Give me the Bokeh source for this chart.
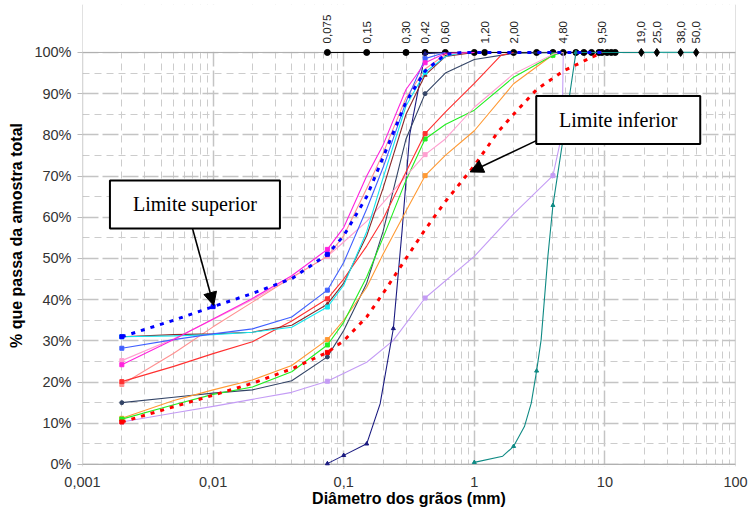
from bokeh.plotting import figure
from bokeh.models import (Range1d, FixedTicker, CustomJSTickFormatter, PrintfTickFormatter,
                          Label, Arrow, NormalHead, Span)
from bokeh.embed import file_html
from bokeh.resources import INLINE
from bokeh.core.properties import value
import math

# ---------------- data ----------------
x_ticks = [0.001, 0.01, 0.1, 1, 10, 100]
x_minor = [0.002, 0.003, 0.004, 0.005, 0.006, 0.007, 0.008, 0.009,
           0.02, 0.03, 0.04, 0.05, 0.06, 0.07, 0.08, 0.09,
           0.2, 0.3, 0.4, 0.5, 0.6, 0.7, 0.8, 0.9,
           2, 3, 4, 5, 6, 7, 8, 9,
           20, 30, 40, 50, 60, 70, 80, 90]
y_ticks = [0, 10, 20, 30, 40, 50, 60, 70, 80, 90, 100]
y_minor = [5, 15, 25, 35, 45, 55, 65, 75, 85, 95]

# sieve openings drawn on the 100 % line
sieve_x = [0.075, 0.15, 0.30, 0.42, 0.60, 1.0, 1.2, 2.0, 3.0, 4.0, 4.8, 6.0,
           6.9, 7.9, 9.0, 9.5, 10.4, 11.2, 12.0]
sieve_pct = [100, 100, 100, 100, 100, 100, 100, 100, 100, 100, 100, 100,
             100, 100, 100, 100, 100, 100, 100]
coarse_x = [19.0, 25.0, 38.0, 50.0]
coarse_pct = [100, 100, 100, 100]
sieve_label_x = [0.075, 0.15, 0.30, 0.42, 0.60, 1.20, 2.00, 4.80, 9.50, 19.0, 25.0, 38.0, 50.0]
sieve_label_pct = [100, 100, 100, 100, 100, 100, 100, 100, 100, 100, 100, 100, 100]
sieve_labels = ["0,075", "0,15", "0,30", "0,42", "0,60", "1,20", "2,00", "4,80",
                "9,50", "19,0", "25,0", "38,0", "50,0"]

# grading curves (diameter mm, % passing)
sup_x = [0.002, 0.005, 0.01, 0.02, 0.04, 0.075, 0.1, 0.15, 0.2, 0.3, 0.42, 0.6, 0.8, 1.2, 2.0, 4.8, 9.5]
sup_y = [31, 35, 38.3, 41.5, 45.1, 51, 55.5, 65, 74.5, 88, 95.5, 99.5, 100, 100, 100, 100, 100]

inf_x = [0.002, 0.005, 0.01, 0.02, 0.04, 0.075, 0.1, 0.15, 0.2, 0.3, 0.42, 0.6, 1.0, 1.5, 2.0, 3.0, 4.8, 7.0, 9.5]
inf_y = [10.3, 14, 16.8, 19.7, 23.2, 27.2, 30, 35.8, 41.5, 50, 57, 63.8, 72.5, 80.5, 85, 91, 95.5, 98, 100]

magenta_x = [0.002, 0.005, 0.01, 0.02, 0.04, 0.075, 0.1, 0.15, 0.2, 0.3, 0.42, 0.6, 1.0]
magenta_y = [24.2, 30.3, 35.3, 40.3, 45.8, 52.2, 57.5, 70, 77.5, 91, 97.5, 99.8, 100]

salmon_x = [0.002, 0.005, 0.01, 0.02, 0.04, 0.075, 0.1, 0.15, 0.2, 0.3, 0.42, 0.6, 1.0]
salmon_y = [19.4, 27, 33.4, 39.4, 45.4, 50.5, 55.5, 67, 75.5, 89, 96, 99.5, 100]

pink_x = [0.002, 0.005, 0.01, 0.02, 0.04, 0.075, 0.1, 0.15, 0.2, 0.3, 0.42, 0.6, 1.0, 2.0, 4.1, 4.8]
pink_y = [25.2, 30.5, 35.2, 40, 45.3, 50.5, 54, 59, 63.5, 70, 75.2, 79, 86.7, 94.8, 99.7, 100]

red_x = [0.002, 0.005, 0.01, 0.02, 0.04, 0.075, 0.1, 0.15, 0.2, 0.3, 0.42, 0.6, 1.0, 1.6, 2.0]
red_y = [20.1, 23.8, 26.9, 29.8, 34.8, 40.2, 45, 53, 59.5, 71, 80.3, 85.5, 92.5, 99.3, 100]

blue_x = [0.002, 0.005, 0.01, 0.02, 0.04, 0.075, 0.1, 0.15, 0.2, 0.3, 0.42, 0.6]
blue_y = [28.2, 30.3, 31.7, 32.9, 35.8, 42.3, 49, 62, 72, 88, 98.5, 100]

cyan_x = [0.002, 0.005, 0.01, 0.02, 0.04, 0.075, 0.1, 0.15, 0.2, 0.3, 0.42, 0.6, 0.8]
cyan_y = [31, 31.2, 31.5, 32.1, 33.3, 38.2, 43.5, 56.5, 69.5, 87, 95.2, 99, 100]

brown_x = [0.002, 0.005, 0.01, 0.02, 0.04, 0.075, 0.1, 0.15, 0.2, 0.3, 0.42, 0.6, 1.0]
brown_y = [31, 31.5, 31.7, 32.1, 33.8, 38.9, 44, 55.5, 67, 85, 94.5, 99, 100]

slate_x = [0.002, 0.005, 0.01, 0.02, 0.04, 0.075, 0.1, 0.15, 0.2, 0.3, 0.42, 0.6, 1.0, 2.0, 4.8]
slate_y = [15, 16.3, 17.3, 18.1, 20.3, 26.1, 32.5, 44, 56.5, 79, 90, 95, 98.3, 99.8, 100]

orange_x = [0.002, 0.005, 0.01, 0.02, 0.04, 0.075, 0.1, 0.15, 0.2, 0.3, 0.42, 0.6, 1.0, 2.0, 4.1, 4.8]
orange_y = [11.2, 15.5, 18.1, 20.5, 24, 30.3, 35, 43, 51, 61.5, 70.1, 75, 81, 92.4, 99.7, 100]

green_x = [0.002, 0.005, 0.01, 0.02, 0.04, 0.075, 0.1, 0.15, 0.2, 0.3, 0.42, 0.6, 1.0, 2.0, 4.0, 4.8]
green_y = [11, 14.5, 17, 18.8, 22.5, 29, 34.5, 45.5, 55, 69, 79, 82.5, 86, 94, 99.3, 100]

lavender_x = [0.002, 0.005, 0.01, 0.02, 0.04, 0.075, 0.15, 0.24, 0.42, 1.0, 2.0, 4.0, 4.7, 4.8]
lavender_y = [10.3, 12.5, 14.1, 15.8, 17.5, 20.2, 24.8, 30.1, 40.4, 50.5, 60.8, 70.1, 80.3, 100]

navy_x = [0.075, 0.1, 0.15, 0.19, 0.24, 0.28, 0.32, 0.42, 0.6]
navy_y = [0.2, 2.2, 5, 14.7, 33, 56.8, 80, 99.7, 100]

teal_x = [1.0, 1.65, 2.0, 2.42, 2.73, 3.0, 3.25, 3.66, 4.0, 5.0, 6.0, 12.0, 19.0]
teal_y = [0.5, 2, 4.4, 9.2, 14.9, 22.7, 30.3, 50.5, 62.9, 83, 100, 100, 100]

# ---------------- figure ----------------
p = figure(width=748, height=512, x_axis_type="log",
           x_range=Range1d(0.001, 100), y_range=Range1d(-0.5, 111.64),
           output_backend="svg", toolbar_location=None,
           min_border_left=82, min_border_right=13, min_border_top=4, min_border_bottom=46)
p.outline_line_color = None
p.background_fill_color = "white"
p.border_fill_color = "white"

FONT = "Liberation Sans"
p.xaxis.ticker = FixedTicker(ticks=x_ticks, minor_ticks=x_minor)
p.xgrid.ticker = FixedTicker(ticks=x_ticks, minor_ticks=x_minor)
p.yaxis.ticker = FixedTicker(ticks=y_ticks, minor_ticks=y_minor)
p.ygrid.ticker = FixedTicker(ticks=y_ticks, minor_ticks=y_minor)
p.xaxis.formatter = CustomJSTickFormatter(code="return tick.toString().replace('.', ',');")
p.yaxis.formatter = PrintfTickFormatter(format="%d%%")

for ax in (p.xaxis, p.yaxis):
    ax.axis_line_color = None
    ax.minor_tick_line_color = None
    ax.major_tick_in = 0
    ax.major_label_text_font = FONT
    ax.major_label_text_font_size = "14.5px"
    ax.major_label_text_color = "#333333"
    ax.axis_label_text_font = FONT
    ax.axis_label_text_font_size = "16px"
    ax.axis_label_text_font_style = "bold"
    ax.axis_label_text_color = "black"

p.xaxis.major_tick_out = 0
p.xaxis.major_label_standoff = 6
p.xaxis.axis_label_standoff = 0
p.xaxis.axis_label = "Diâmetro dos grãos (mm)"
p.yaxis.major_tick_out = 5
p.yaxis.major_tick_line_color = "#bbbbbb"
p.yaxis.major_label_standoff = 6
p.yaxis.axis_label_standoff = 6
p.yaxis.axis_label = "% que passa da amostra total"

for g in (p.xgrid, p.ygrid):
    g.grid_line_color = "#c4c4c4"
    g.grid_line_width = 1.5
    g.grid_line_dash = "16 4"
    g.minor_grid_line_color = "#cccccc"
    g.minor_grid_line_width = 1
    g.minor_grid_line_dash = "7 5"

# frame lines
for loc, dim in ((0.001, "height"), (100, "height"), (0, "width"), (100, "width")):
    p.add_layout(Span(location=loc, dimension=dim, line_color="#b0b0b0", line_width=1.3, level="underlay"))

# white strips hiding the range padding above 100 % and below 0 %
p.quad(left=[0.001, 0.001], right=[100, 100], bottom=[100.15, -0.5], top=[111.64, -0.15],
       fill_color="white", line_color=None)

# sieve line on top
p.line(sieve_x + coarse_x[:1], sieve_pct + coarse_pct[:1], line_color="black", line_width=1)
p.scatter(sieve_x, sieve_pct, marker="circle", size=6, fill_color="black", line_color="black")

curves = [
    (lavender_x, lavender_y, "#c49cf5", "square", [0.002, 0.075, 0.42, 4.0]),
    (teal_x, teal_y, "#0f8a84", "triangle", [1.0, 2.0, 3.0, 4.0, 6.0]),
    (navy_x, navy_y, "#1a1a80", "triangle", [0.075, 0.1, 0.15, 0.24, 0.42]),
    (slate_x, slate_y, "#334466", "circle", [0.002, 0.075, 0.42]),
    (orange_x, orange_y, "#ff9933", "square", [0.002, 0.075, 0.42]),
    (green_x, green_y, "#22ee22", "square", [0.002, 0.075, 0.42, 4.0]),
    (pink_x, pink_y, "#ff9fd0", "square", [0.002, 0.075, 0.42]),
    (salmon_x, salmon_y, "#ff9090", "square", [0.002]),
    (red_x, red_y, "#ff3030", "square", [0.002, 0.075, 0.42]),
    (brown_x, brown_y, "#8b2a2a", "triangle", [0.075, 0.42]),
    (cyan_x, cyan_y, "#11e8f0", "square", [0.002, 0.075, 0.42]),
    (blue_x, blue_y, "#4060ff", "square", [0.002, 0.075, 0.42]),
    (magenta_x, magenta_y, "#ff22dd", "square", [0.002, 0.075, 0.42]),
]
for xs, ys, col, mk, marks in curves:
    p.line(xs, ys, line_color=col, line_width=1.1)
    mx = [x for x in xs if x in marks]
    my = [y for x, y in zip(xs, ys) if x in marks]
    p.scatter(mx, my, marker=mk, size=4, fill_color=col, line_color=col)

# coarse sieves (diamonds) with teal line
p.line(coarse_x, coarse_pct, line_color="#2aa39c", line_width=1.2)
p.scatter(coarse_x, coarse_pct, marker="diamond", size=8, fill_color="black", line_color="black")

# limit curves
p.line(inf_x, inf_y, line_color="#ff0000", line_width=3, line_dash="4 6")
p.scatter([inf_x[0], inf_x[5]], [inf_y[0], inf_y[5]], marker="square", size=4, color="#ff0000")
p.line(sup_x, sup_y, line_color="#0000ff", line_width=3, line_dash="4 6")
p.scatter([sup_x[0], sup_x[2], sup_x[5]], [sup_y[0], sup_y[2], sup_y[5]], marker="square", size=4, color="#0000ff")

# sieve labels above the chart (vertical text)
p.text(x=sieve_label_x, y=sieve_label_pct, text=sieve_labels, angle=math.pi / 2,
       y_offset=-9, text_align="left", text_baseline="middle",
       text_font=value(FONT), text_font_size="11.5px", text_color="#222222")

# annotation boxes and arrows
p.add_layout(Arrow(end=NormalHead(size=13, fill_color="black", line_color="black"),
                   x_start=0.00695, y_start=57.3, x_end=0.0101, y_end=38.6,
                   line_color="black", line_width=1.6))
p.add_layout(Arrow(end=NormalHead(size=13, fill_color="black", line_color="black"),
                   x_start=2.99, y_start=78.6, x_end=0.93, y_end=71.0,
                   line_color="black", line_width=1.6))
p.rect(x=[0.00726, 12.65], y=[63.1, 83.6], width=[170, 164], height=[48, 48],
       width_units="screen", height_units="screen",
       fill_color="white", line_color="black", line_width=2)
for bx, by, bt in ((0.00726, 63.1, "Limite superior"), (12.65, 83.6, "Limite inferior")):
    p.add_layout(Label(x=bx, y=by, text=bt, text_align="center", text_baseline="middle",
                       text_font="Liberation Serif", text_font_size="20px",
                       text_color="black"))

open("out.html", "w").write(file_html(p, INLINE))
